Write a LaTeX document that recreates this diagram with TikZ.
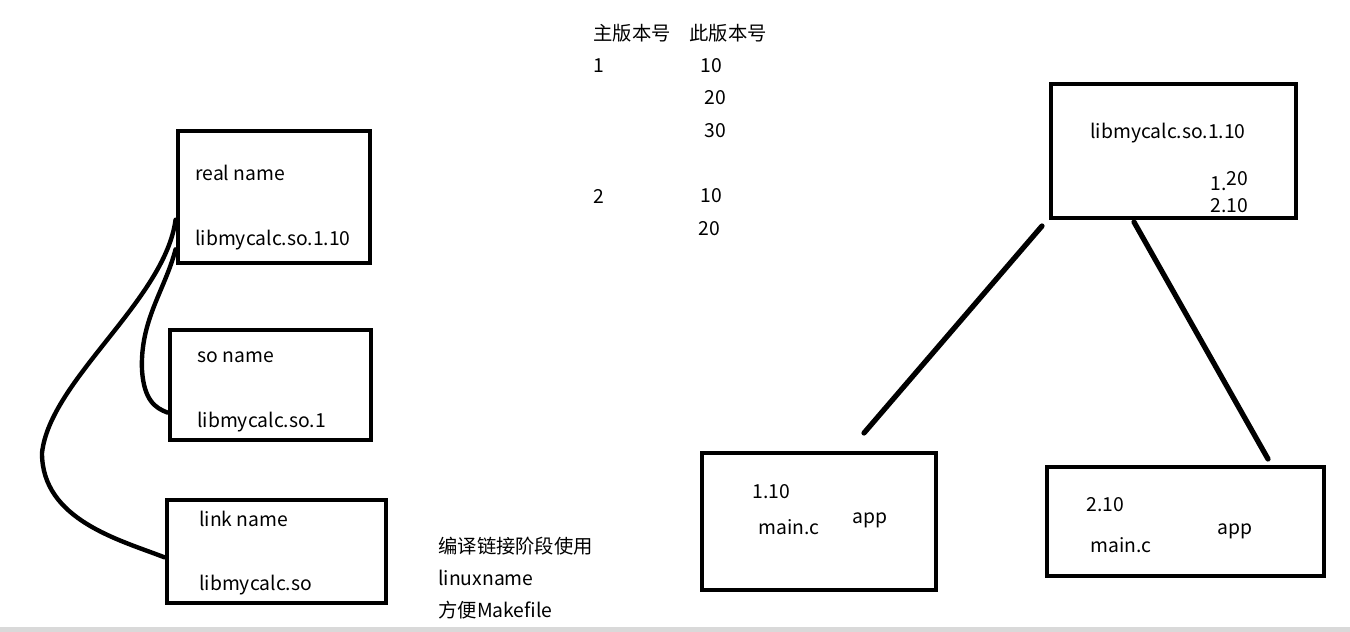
\documentclass[tikz,border=0pt]{standalone}
\usepackage{fontspec}
\setmainfont{Noto Sans CJK SC}
\usetikzlibrary{positioning}
\tikzstyle{box}=[draw, rectangle, line width=2.8pt, inner sep=0pt]
\tikzstyle{txt}=[anchor=west, inner sep=0pt, font=\fontsize{11}{13}\selectfont]
\tikzset{wire/.style={line width=2.5pt, line cap=round}}

\begin{document}
\begin{tikzpicture}[x=0.02cm, y=-0.02cm]
\useasboundingbox (0,0) rectangle (1350,632);
\fill[gray!30] (0,627) rectangle (1350,632);

\node[box, minimum width=3.84cm, minimum height=2.64cm] (real) at (274,197) {};
\node[box, minimum width=4.02cm, minimum height=2.2cm] (soname) at (270.5,385) {};
\node[box, minimum width=4.38cm, minimum height=2.06cm] (linkname) at (276.5,551.5) {};
\node[box, minimum width=4.9cm, minimum height=2.68cm] (lib) at (1173.5,151) {};
\node[box, minimum width=4.68cm, minimum height=2.74cm] (appA) at (819,521.5) {};
\node[box, minimum width=5.54cm, minimum height=2.18cm] (appB) at (1185.5,521.5) {};

\node[txt] (realT) at (195,173) {real name};
\node[txt] (realN) at (195,240) {libmycalc.so.1.10};
\node[txt] (soT) at (197,357) {so name};
\node[txt] (soN) at (197,422) {libmycalc.so.1};
\node[txt] (linkT) at (199,519) {link name};
\node[txt] (linkN) at (199,585) {libmycalc.so};

\node[txt] (major) at (593,33) {主版本号};
\node[txt] (minor) at (689,33) {此版本号};
\node[txt] (m1) at (593,66) {1};
\node[txt] (n10) at (700,66) {10};
\node[txt] (n20) at (704,98) {20};
\node[txt] (n30) at (704,131) {30};
\node[txt] (m2) at (593,196) {2};
\node[txt] (p10) at (700,196) {10};
\node[txt] (p20) at (698,229) {20};

\node[txt] (use1) at (438,546) {编译链接阶段使用};
\node[txt] (use2) at (438,578) {linuxname};
\node[txt] (use3) at (438,610) {方便Makefile};

\node[txt] (libN) at (1090,133) {libmycalc.so.1.10};
\node[txt] (libV1) at (1210,181) {1.\raisebox{0.1cm}{20}};
\node[txt] (libV2) at (1210,206) {2.10};

\node[txt] (aV) at (752,492) {1.10};
\node[txt] (aM) at (758,527) {main.c};
\node[txt] (aP) at (852,520) {app};
\node[txt] (bV) at (1086,505) {2.10};
\node[txt] (bM) at (1090,545) {main.c};
\node[txt] (bP) at (1217,531) {app};

\draw[wire] (real.193) .. controls (165,300) and (50,380) .. (42,453)
	.. controls (42,520) and (120,540) .. (linkname.183);
\draw[wire] (real.208) .. controls (165,290) and (140,320) .. (142,370)
	.. controls (144,400) and (155,408) .. (soname.195);

\coordinate (a1) at (1042,226);
\coordinate (a2) at (864,433);
\coordinate (b1) at (1134,222);
\coordinate (b2) at (1268,459);
\draw[wire, line width=3pt] (a1) -- (a2);
\draw[wire, line width=3pt] (b1) -- (b2);
\end{tikzpicture}
\end{document}
